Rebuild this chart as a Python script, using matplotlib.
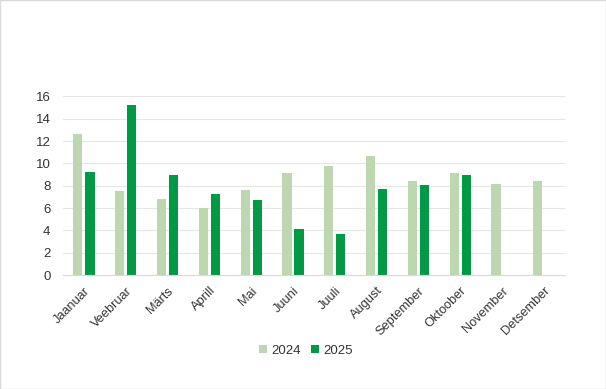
import matplotlib
matplotlib.use('Agg')
import matplotlib.pyplot as plt
import numpy as np
from matplotlib.patches import Rectangle

plt.rcParams['font.family'] = ['Liberation Sans', 'DejaVu Sans']

months = ['Jaanuar', 'Veebruar', 'Märts', 'Aprill', 'Mai', 'Juuni', 'Juuli',
          'August', 'September', 'Oktoober', 'November', 'Detsember']
y2024 = [12.6, 7.5, 6.8, 6.0, 7.6, 9.1, 9.8, 10.7, 8.4, 9.1, 8.2, 8.4]
y2025 = [9.2, 15.2, 9.0, 7.3, 6.7, 4.1, 3.7, 7.7, 8.1, 9.0, np.nan, np.nan]

c24 = '#bdd7b1'
c25 = '#009a44'
txt = '#333333'

fig = plt.figure(figsize=(6.06, 3.89), dpi=100)
ax = fig.add_axes([0.104, 0.293, 0.828, 0.459])

x = np.arange(len(months))
w = 0.22
ax.bar(x - 0.145, y2024, w, color=c24, label='2024', zorder=2)
ax.bar(x + 0.145, y2025, w, color=c25, label='2025', zorder=2)

ax.set_xlim(-0.5, len(months) - 0.5)
ax.set_ylim(0, 16)
ax.set_yticks(range(0, 17, 2))
ax.yaxis.grid(True, color='#e6e6e6', linewidth=0.8, zorder=0)
ax.set_xticks(x)
ax.set_xticklabels(months, rotation=45, ha='right', rotation_mode='anchor')
ax.tick_params(axis='both', length=0, colors=txt)
ax.tick_params(axis='x', pad=7, labelsize=9.2)
ax.tick_params(axis='y', pad=9, labelsize=9.5)
for s in ['top', 'right', 'left']:
    ax.spines[s].set_visible(False)
ax.spines['bottom'].set_color('#d9d9d9')

fig.legend(loc='center', bbox_to_anchor=(0.505, 0.098), ncol=2, frameon=False,
           fontsize=9.5, handlelength=0.6, handleheight=0.6, handletextpad=0.3,
           columnspacing=0.8, labelcolor=txt)

fig.patches.append(Rectangle((0, 0), 1, 1, transform=fig.transFigure,
                             fill=False, edgecolor='#d9d9d9', linewidth=1))

fig.savefig('out.png', dpi=100)
